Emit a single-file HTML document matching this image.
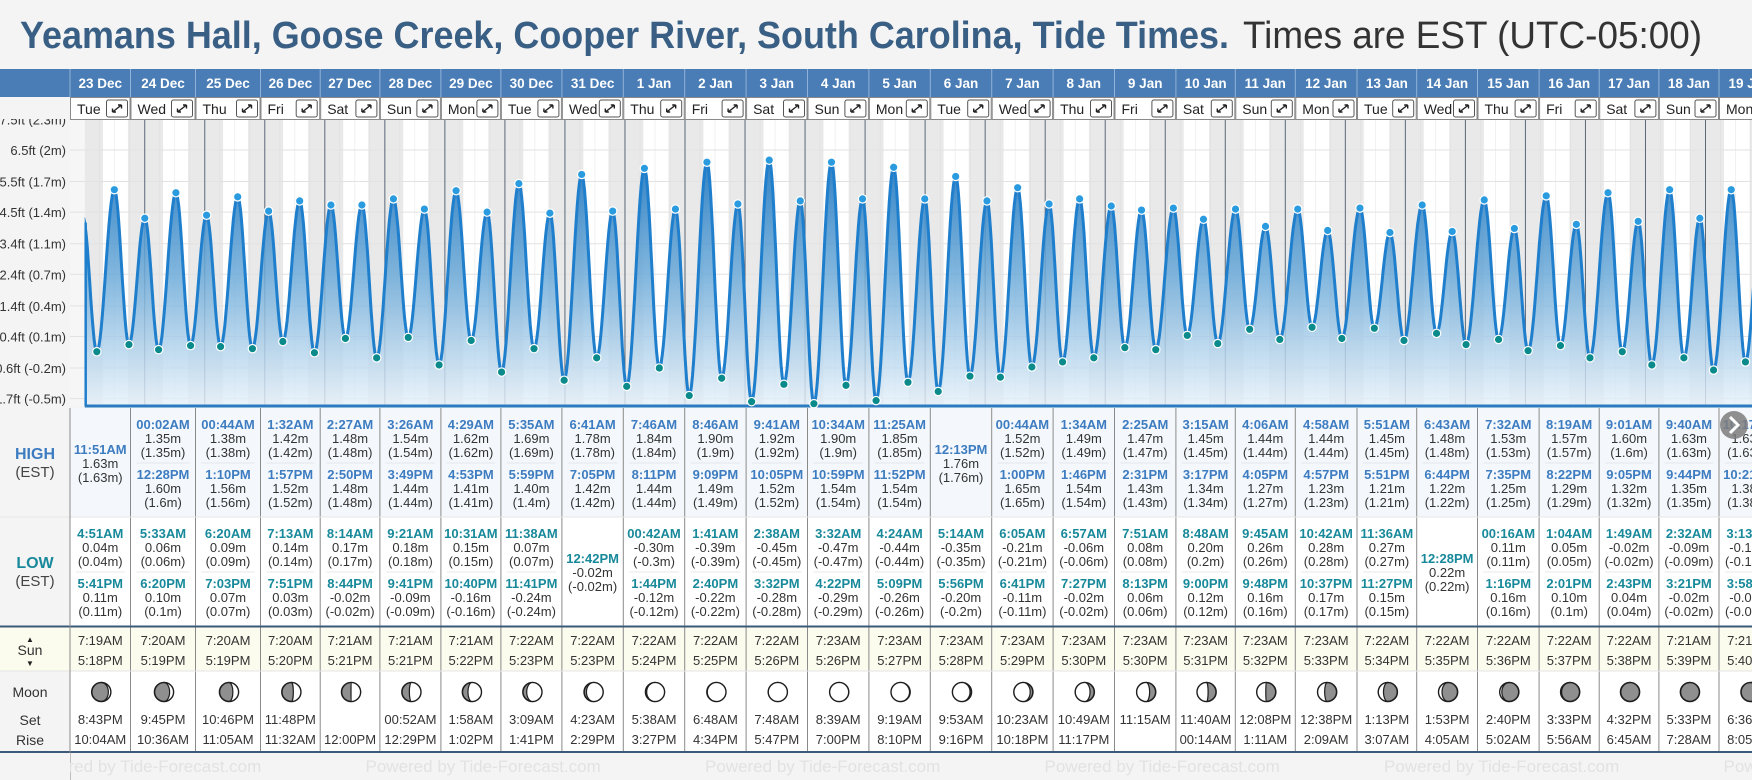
<!DOCTYPE html>
<html><head><meta charset="utf-8"><style>
html,body{margin:0;padding:0;background:#f4f4f4;width:1752px;height:780px;overflow:hidden;font-family:"Liberation Sans",sans-serif}
svg{display:block}
</style></head><body>
<svg id="root" xmlns="http://www.w3.org/2000/svg" width="1752" height="780" viewBox="0 0 1752 780" font-family="Liberation Sans, sans-serif">
<defs>
<linearGradient id="fillGrad" gradientUnits="userSpaceOnUse" x1="0" y1="165" x2="0" y2="406">
<stop offset="0" stop-color="#2a7dc2" stop-opacity="0.95"/>
<stop offset="0.45" stop-color="#6aa9d8" stop-opacity="0.85"/>
<stop offset="1" stop-color="#e6f1fa" stop-opacity="0.8"/>
</linearGradient>
<clipPath id="plotClip"><rect x="84.7" y="120" width="1668" height="287"/></clipPath>
</defs>
<rect x="0" y="0" width="1752" height="780" fill="#f4f4f4"/>
<text x="20" y="48" font-size="38" font-weight="bold" fill="#3a5f85" textLength="1209" lengthAdjust="spacingAndGlyphs">Yeamans Hall, Goose Creek, Cooper River, South Carolina, Tide Times.</text>
<text x="1243" y="48" font-size="38" fill="#333" textLength="459" lengthAdjust="spacingAndGlyphs">Times are EST (UTC-05:00)</text>
<g id="chart"></g>
<g id="table"></g>
</svg>
<script>
const dates = ['23 Dec','24 Dec','25 Dec','26 Dec','27 Dec','28 Dec','29 Dec','30 Dec','31 Dec','1 Jan','2 Jan','3 Jan','4 Jan','5 Jan','6 Jan','7 Jan','8 Jan','9 Jan','10 Jan','11 Jan','12 Jan','13 Jan','14 Jan','15 Jan','16 Jan','17 Jan','18 Jan','19 Jan'];
const weekdays = ['Tue','Wed','Thu','Fri','Sat','Sun','Mon','Tue','Wed','Thu','Fri','Sat','Sun','Mon','Tue','Wed','Thu','Fri','Sat','Sun','Mon','Tue','Wed','Thu','Fri','Sat','Sun','Mon'];
const highTimes = [['11:51AM'],['00:02AM','12:28PM'],['00:44AM','1:10PM'],['1:32AM','1:57PM'],['2:27AM','2:50PM'],['3:26AM','3:49PM'],['4:29AM','4:53PM'],['5:35AM','5:59PM'],['6:41AM','7:05PM'],['7:46AM','8:11PM'],['8:46AM','9:09PM'],['9:41AM','10:05PM'],['10:34AM','10:59PM'],['11:25AM','11:52PM'],['12:13PM'],['00:44AM','1:00PM'],['1:34AM','1:46PM'],['2:25AM','2:31PM'],['3:15AM','3:17PM'],['4:06AM','4:05PM'],['4:58AM','4:57PM'],['5:51AM','5:51PM'],['6:43AM','6:44PM'],['7:32AM','7:35PM'],['8:19AM','8:22PM'],['9:01AM','9:05PM'],['9:40AM','9:44PM'],['10:17AM','10:21PM']];
const highVals = [[1.63],[1.35,1.60],[1.38,1.56],[1.42,1.52],[1.48,1.48],[1.54,1.44],[1.62,1.41],[1.69,1.40],[1.78,1.42],[1.84,1.44],[1.90,1.49],[1.92,1.52],[1.90,1.54],[1.85,1.54],[1.76],[1.52,1.65],[1.49,1.54],[1.47,1.43],[1.45,1.34],[1.44,1.27],[1.44,1.23],[1.45,1.21],[1.48,1.22],[1.53,1.25],[1.57,1.29],[1.60,1.32],[1.63,1.35],[1.63,1.38]];
const lowTimes = [['4:51AM','5:41PM'],['5:33AM','6:20PM'],['6:20AM','7:03PM'],['7:13AM','7:51PM'],['8:14AM','8:44PM'],['9:21AM','9:41PM'],['10:31AM','10:40PM'],['11:38AM','11:41PM'],['12:42PM'],['00:42AM','1:44PM'],['1:41AM','2:40PM'],['2:38AM','3:32PM'],['3:32AM','4:22PM'],['4:24AM','5:09PM'],['5:14AM','5:56PM'],['6:05AM','6:41PM'],['6:57AM','7:27PM'],['7:51AM','8:13PM'],['8:48AM','9:00PM'],['9:45AM','9:48PM'],['10:42AM','10:37PM'],['11:36AM','11:27PM'],['12:28PM'],['00:16AM','1:16PM'],['1:04AM','2:01PM'],['1:49AM','2:43PM'],['2:32AM','3:21PM'],['3:13AM','3:58PM']];
const lowVals = [[0.04,0.11],[0.06,0.10],[0.09,0.07],[0.14,0.03],[0.17,-0.02],[0.18,-0.09],[0.15,-0.16],[0.07,-0.24],[-0.02],[-0.30,-0.12],[-0.39,-0.22],[-0.45,-0.28],[-0.47,-0.29],[-0.44,-0.26],[-0.35,-0.20],[-0.21,-0.11],[-0.06,-0.02],[0.08,0.06],[0.20,0.12],[0.26,0.16],[0.28,0.17],[0.27,0.15],[0.22],[0.11,0.16],[0.05,0.10],[-0.02,0.04],[-0.09,-0.02],[-0.14,-0.06]];
const prevExtremeTime = '11:17PM';
const prevExtremeVal = 1.36;
const sunRise = ['7:19AM','7:20AM','7:20AM','7:20AM','7:21AM','7:21AM','7:21AM','7:22AM','7:22AM','7:22AM','7:22AM','7:22AM','7:23AM','7:23AM','7:23AM','7:23AM','7:23AM','7:23AM','7:23AM','7:23AM','7:23AM','7:22AM','7:22AM','7:22AM','7:22AM','7:22AM','7:21AM','7:21AM'];
const sunSet = ['5:18PM','5:19PM','5:19PM','5:20PM','5:21PM','5:21PM','5:22PM','5:23PM','5:23PM','5:24PM','5:25PM','5:26PM','5:26PM','5:27PM','5:28PM','5:29PM','5:30PM','5:30PM','5:31PM','5:32PM','5:33PM','5:34PM','5:35PM','5:36PM','5:37PM','5:38PM','5:39PM','5:40PM'];
const moonSet = ['8:43PM','9:45PM','10:46PM','11:48PM','','00:52AM','1:58AM','3:09AM','4:23AM','5:38AM','6:48AM','7:48AM','8:39AM','9:19AM','9:53AM','10:23AM','10:49AM','11:15AM','11:40AM','12:08PM','12:38PM','1:13PM','1:53PM','2:40PM','3:33PM','4:32PM','5:33PM','6:36PM'];
const moonRise = ['10:04AM','10:36AM','11:05AM','11:32AM','12:00PM','12:29PM','1:02PM','1:41PM','2:29PM','3:27PM','4:34PM','5:47PM','7:00PM','8:10PM','9:16PM','10:18PM','11:17PM','','00:14AM','1:11AM','2:09AM','3:07AM','4:05AM','5:02AM','5:56AM','6:45AM','7:28AM','8:05AM'];
const moonAgeDays = [3.4,4.4,5.4,6.4,7.4,8.4,9.4,10.4,11.4,12.4,13.4,14.4,15.4,16.4,17.4,18.4,19.4,20.4,21.4,22.4,23.4,24.4,25.4,26.4,27.4,28.4,29.2,0.9];
const yTickVals = [-0.42,-0.12,0.19,0.49,0.80,1.10,1.41,1.71,2.02,2.32];
const yTickLabels = ['-1.7ft (-0.5m)','-0.6ft (-0.2m)','0.4ft (0.1m)','1.4ft (0.4m)','2.4ft (0.7m)','3.4ft (1.1m)','4.5ft (1.4m)','5.5ft (1.7m)','6.5ft (2m)','7.5ft (2.3m)'];

const colWidths = [60.5,65,65,59.7,59.7,61,60,61,61.4,61.4,61.4,61.4,61.4,61.4,61.4,61.4,61.4,61.4,59.4,60,61.7,59.7,60.8,61.6,60.1,59.7,60.1,61];
const NS = 'http://www.w3.org/2000/svg';
const chart = document.getElementById('chart');
const table = document.getElementById('table');
function mk(parent, tag, attrs, txt){const e=document.createElementNS(NS,tag);for(const k in attrs)e.setAttribute(k,attrs[k]);if(txt!==undefined)e.textContent=txt;parent.appendChild(e);return e;}
function tFrac(s){const m=s.match(/(\d+):(\d+)(AM|PM)/);let h=+m[1]%12;if(m[3]==='PM')h+=12;return (h*60+ +m[2])/1440;}
const X0=84.7, DAYW=60.03;
function xScale(t){return X0+t*DAYW;}
function yScale(v){return 355.8-v*101.9;}
const PT=120, PB=406;

let e;
e=mk(chart,'rect',{x:70,y:PT,width:1682,height:PB-PT,fill:'#f6f6f6'});


e=mk(chart,'rect',{x:X0,y:PT,width:1752-X0,height:PB-PT,fill:'#ffffff'});


for(let d=0; d<dates.length; d++){
  const start = d===0 ? 0 : (d-1)+tFrac(sunSet[d-1]);
  const end = d+tFrac(sunRise[d]);
  e=mk(chart,'rect',{x:xScale(start),y:PT,width:xScale(end)-xScale(start),height:PB-PT,fill:'#e9e9e9'});
  
  
}
{const last=dates.length-1;const s=last+tFrac(sunSet[last]);
e=mk(chart,'rect',{x:xScale(s),y:PT,width:Math.max(0,1752-xScale(s)),height:PB-PT,fill:'#e9e9e9'});

}
for(let q=1;q<dates.length*4;q++){ if(q%4===0) continue;
  e=mk(chart,'line',{x1:xScale(q/4),x2:xScale(q/4),y1:PT,y2:PB,stroke:'#d8d8d8','stroke-width':0.6,'stroke-opacity':0.6});
  
  
}
for(let i=0;i<yTickVals.length;i++){
  const y=yScale(yTickVals[i]);
  e=mk(chart,'line',{x1:70,x2:1752,y1:y,y2:y,stroke:'#e2e2e2','stroke-width':1});
  
  
  e=mk(chart,'text',{x:66,y:y+5,'text-anchor':'end','font-size':13,fill:'#333'},yTickLabels[i]);
  
  
}
for(let d=1; d<dates.length; d++){
  e=mk(chart,'line',{x1:xScale(d),x2:xScale(d),y1:PT,y2:PB,stroke:'#5b6878','stroke-width':1});
  
  
}
const ext=[{t:-1+tFrac(prevExtremeTime),v:prevExtremeVal,h:true,show:false}];
for(let d=0;d<dates.length;d++){
  highTimes[d].forEach((s,i)=>ext.push({t:d+tFrac(s),v:highVals[d][i],h:true,show:true}));
  lowTimes[d].forEach((s,i)=>ext.push({t:d+tFrac(s),v:lowVals[d][i],h:false,show:true}));
}
ext.sort((a,b)=>a.t-b.t);
const pts=[];
for(let i=0;i<ext.length-1;i++){
  const a=ext[i],b=ext[i+1];
  for(let k=0;k<16;k++){const f=k/16;const t=a.t+(b.t-a.t)*f;const v=a.v+(b.v-a.v)*(1-Math.cos(Math.PI*f))/2;pts.push([xScale(t),yScale(v)]);}
}
{const l=ext[ext.length-1];pts.push([xScale(l.t),yScale(l.v)]);}
const g=mk(chart,'g',{'clip-path':'url(#plotClip)'});


let lineD='M'+pts.map(p=>p[0].toFixed(1)+','+p[1].toFixed(1)).join('L');
let fillD=lineD+'L'+pts[pts.length-1][0].toFixed(1)+','+PB+'L'+pts[0][0].toFixed(1)+','+PB+'Z';
e=mk(g,'path',{d:fillD,fill:'url(#fillGrad)'});


e=mk(g,'path',{d:lineD,fill:'none',stroke:'#1f7fcc','stroke-width':3,'stroke-linejoin':'round'});


{const y0=yScale(prevExtremeVal+(ext[1].v-prevExtremeVal)*(1-Math.cos(Math.PI*((0-ext[0].t)/(ext[1].t-ext[0].t))))/2);
e=mk(chart,'line',{x1:X0+1,x2:X0+1,y1:y0,y2:PB,stroke:'#1f7fcc','stroke-width':2.5});

}
e=mk(chart,'line',{x1:X0,x2:1752,y1:PB,y2:PB,stroke:'#2b7bc0','stroke-width':3});


ext.forEach(p=>{ if(!p.show) return;
  e=mk(chart,'circle',{cx:xScale(p.t),cy:yScale(p.v),r:4.2,fill:p.h?'#2b9be0':'#0b8a8c',stroke:'#ffffff','stroke-width':1.2});
  
  
});

e=mk(table,'rect',{x:0,y:69,width:1752,height:28,fill:'#4a7db5'});


e=mk(table,'rect',{x:0,y:97,width:70,height:22,fill:'#f4f4f4'});


e=mk(table,'rect',{x:0,y:408,width:70,height:344,fill:'#f4f4f4'});


e=mk(table,'rect',{x:70,y:408,width:1682,height:109,fill:'#f4f8fc'});


e=mk(table,'rect',{x:70,y:517,width:1682,height:109,fill:'#ffffff'});


e=mk(table,'rect',{x:0,y:627,width:1752,height:44,fill:'#fbfbee'});


e=mk(table,'rect',{x:70,y:671,width:1682,height:81,fill:'#ffffff'});


e=mk(table,'rect',{x:0,y:671,width:70,height:81,fill:'#f4f4f4'});



function txt(x,y,s,size,fill,bold){
  return mk(table,'text',{x:x,y:y,'text-anchor':'middle','font-size':size,fill:fill,'font-weight':bold?'bold':'normal'},s);
}
e=txt(35,459,'HIGH',16,'#3d7cc0',true);


e=txt(35,477,'(EST)',15,'#444',false);


e=txt(35,568,'LOW',16,'#18899a',true);


e=txt(35,586,'(EST)',15,'#444',false);


e=txt(30,655,'Sun',14,'#333',false);


e=txt(30,642,'▲',8,'#222',false);


e=txt(30,666,'▼',8,'#222',false);


e=txt(30,697,'Moon',14,'#333',false);


e=txt(30,725,'Set',14,'#333',false);


e=txt(30,745,'Rise',14,'#333',false);



function moonPath(cx,cy,r,age){
  const p=age/29.53; const k=Math.cos(2*Math.PI*p); const rx=Math.abs(k)*r;
  const top=cx+','+(cy-r), bot=cx+','+(cy+r);
  if(p<0.5){ return 'M'+top+'A'+r+','+r+' 0 0 1 '+bot+'A'+rx+','+r+' 0 0 '+(k>0?0:1)+' '+top+'Z'; }
  return 'M'+top+'A'+r+','+r+' 0 0 0 '+bot+'A'+rx+','+r+' 0 0 '+(k>0?1:0)+' '+top+'Z';
}

let cx0=70;
for(let d=0;d<dates.length;d++){
  const w=colWidths[d]; const x=cx0; const c=x+w/2;
  e=mk(table,'text',{x:c,y:88,'text-anchor':'middle','font-size':13.5,'font-weight':'bold',fill:'#ffffff'},dates[d]);
  
  
  e=mk(table,'line',{x1:x,x2:x,y1:69,y2:97,stroke:'#8fb2d8','stroke-width':1});
  
  
  e=mk(table,'rect',{x:x+0.5,y:97.5,width:w-1,height:22,fill:'#ffffff',stroke:'#8a8a8a','stroke-width':1});
  
  
  e=mk(table,'text',{x:x+7,y:114,'font-size':14,fill:'#222'},weekdays[d]);
  
  
  const bx=x+w-24, by=100;
  e=mk(table,'rect',{x:bx,y:by,width:21,height:17,rx:2,fill:'#fff',stroke:'#555','stroke-width':1});
  
  
  e=mk(table,'path',{d:`M${bx+6},${by+12}L${bx+15},${by+5}M${bx+6},${by+12}l0,-3.5M${bx+6},${by+12}l3.5,0M${bx+15},${by+5}l-3.5,0M${bx+15},${by+5}l0,3.5`,stroke:'#222','stroke-width':1.4,fill:'none'});
  
  
  e=mk(table,'line',{x1:x,x2:x,y1:408,y2:752,stroke:'#8a8a8a','stroke-width':1});
  
  
  const hs=highTimes[d];
  const hy = hs.length===1 ? [449] : [424,474];
  hs.forEach((s,i)=>{
    e=txt(c,hy[i]+5,s,13,'#3d7cc0',true);
    
    
    e=txt(c,hy[i]+19,highVals[d][i].toFixed(2)+'m',13,'#333',false);
    
    
    e=txt(c,hy[i]+33,'('+(+highVals[d][i].toFixed(2))+'m)',13,'#333',false);
    
    
  });
  if(hs.length===2){e=mk(table,'line',{x1:x+6,x2:x+w-6,y1:463,y2:463,stroke:'#e4e8ec','stroke-width':1});
    
    }
  const ls=lowTimes[d];
  const ly = ls.length===1 ? [558] : [533,583];
  ls.forEach((s,i)=>{
    e=txt(c,ly[i]+5,s,13,'#18899a',true);
    
    
    e=txt(c,ly[i]+19,lowVals[d][i].toFixed(2)+'m',13,'#333',false);
    
    
    e=txt(c,ly[i]+33,'('+(+lowVals[d][i].toFixed(2))+'m)',13,'#333',false);
    
    
  });
  if(ls.length===2){e=mk(table,'line',{x1:x+6,x2:x+w-6,y1:572,y2:572,stroke:'#e8e8e8','stroke-width':1});
    
    }
  e=txt(c,645,sunRise[d],13,'#333',false);
  
  
  e=txt(c,665,sunSet[d],13,'#333',false);
  
  
  e=mk(table,'circle',{cx:c+1,cy:692,r:9.5,fill:'#8f8f8f',stroke:'#1e1e1e','stroke-width':1.6});
  
  
  e=mk(table,'path',{d:moonPath(c+1,692,9.5,moonAgeDays[d]),fill:'#ffffff',stroke:'#1e1e1e','stroke-width':1.2});
  
  
  e=txt(c,724,moonSet[d],13,'#333',false);
  
  
  e=txt(c,744,moonRise[d],13,'#333',false);
  
  
  cx0+=w;
}
[[517,'#e6e6e6',1],[626.5,'#3b5a78',2],[671,'#e6e6e6',1],[752,'#3b5a78',2]].forEach(r=>{
  e=mk(table,'line',{x1:0,x2:1752,y1:r[0],y2:r[0],stroke:r[1],'stroke-width':r[2]});
  
  
});
e=mk(table,'line',{x1:70,x2:70,y1:408,y2:780,stroke:'#8a8a8a','stroke-width':1});


for(let k=0;k<6;k++){
  const wx=26+k*339.5;
  e=mk(table,'text',{x:wx,y:772,'font-size':17,fill:'#e2e2e2'},'Powered by Tide-Forecast.com');
  
  
}
e=mk(table,'rect',{x:0,y:753,width:70,height:27,fill:'#f4f4f4'});


e=mk(table,'circle',{cx:1734,cy:425,r:14,fill:'#7d7d7d','fill-opacity':0.85});


e=mk(table,'path',{d:'M1730,417L1738,425L1730,433',stroke:'#fff','stroke-width':3,fill:'none'});


</script>
</body></html>
